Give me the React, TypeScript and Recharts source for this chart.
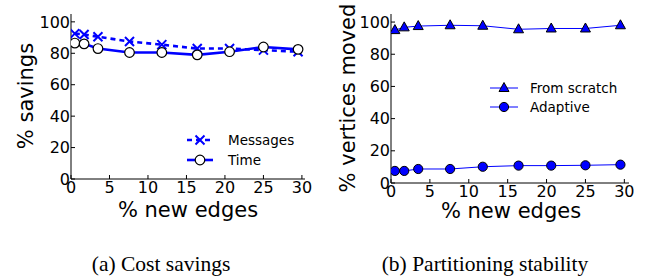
import React from 'react';
import { LineChart, Line, XAxis, YAxis } from 'recharts';

const edgesPct = [0.5, 1.7, 3.5, 7.6, 11.8, 16.4, 20.6, 25, 29.5];
const messagesSavings = [92.5, 92, 90.5, 87.5, 85.5, 83, 83, 82, 81];
const timeSavings = [86.5, 86, 83, 80.5, 80.5, 79, 81, 84, 82.5];
const fromScratch = [95, 96.7, 97.5, 98, 97.7, 95.5, 96, 96, 98];
const adaptive = [7.5, 7.5, 8.7, 8.7, 10.1, 10.8, 10.8, 11, 11.4];
const xTicks = [0, 5, 10, 15, 20, 25, 30];
const yTicks = [0, 20, 40, 60, 80, 100];

const costData = edgesPct.map((x, i) => ({ x, messages: messagesSavings[i], time: timeSavings[i] }));
const stabilityData = edgesPct.map((x, i) => ({ x, scratch: fromScratch[i], adaptive: adaptive[i] }));

const BLUE = '#0000ff';
const FONT = '"DejaVu Sans", sans-serif';
const tickStyle = { fill: '#000', fontSize: 16, fontFamily: FONT };

const XMark = (props: any) => {
  const { cx, cy } = props;
  if (cx == null || cy == null) return null;
  const s = 4.5;
  return (
    <path d={`M${cx - s},${cy - s}L${cx + s},${cy + s}M${cx - s},${cy + s}L${cx + s},${cy - s}`} stroke={BLUE} strokeWidth={2} fill="none" />
  );
};
const OpenCircle = (props: any) => {
  const { cx, cy } = props;
  if (cx == null || cy == null) return null;
  return <circle cx={cx} cy={cy} r={4.8} fill="#fff" stroke="#000" strokeWidth={1.2} />;
};
const Tri = (props: any) => {
  const { cx, cy } = props;
  if (cx == null || cy == null) return null;
  return <polygon points={`${cx},${cy - 5.5} ${cx - 5},${cy + 3.5} ${cx + 5},${cy + 3.5}`} fill={BLUE} stroke="#000" strokeWidth={1} />;
};
const FilledCircle = (props: any) => {
  const { cx, cy } = props;
  if (cx == null || cy == null) return null;
  return <circle cx={cx} cy={cy} r={4.6} fill={BLUE} stroke="#000" strokeWidth={1} />;
};

function axes(xMax: number, xHeight: number, bottomTickMargin: number) {
  return [
    <XAxis key="xb" xAxisId="b" dataKey="x" type="number" domain={[0, xMax]} ticks={xTicks} height={xHeight}
      tickSize={-4} tickMargin={bottomTickMargin} tick={tickStyle} stroke="#000" axisLine={{ stroke: '#000' }} tickLine={{ stroke: '#000' }} allowDataOverflow />,
    <XAxis key="xt" xAxisId="t" orientation="top" dataKey="x" type="number" domain={[0, xMax]} ticks={xTicks} height={0}
      tickSize={-4} tick={false} stroke="#000" allowDataOverflow />,
    <YAxis key="yl" yAxisId="l" type="number" domain={[0, 105]} ticks={yTicks} width={71}
      tickSize={-4} tickMargin={5} tick={tickStyle} stroke="#000" allowDataOverflow />,
    <YAxis key="yr" yAxisId="r" orientation="right" type="number" domain={[0, 105]} ticks={yTicks} width={0}
      tickSize={-4} tick={false} stroke="#000" allowDataOverflow />,
  ];
}

export default function App() {
  return (
    <div style={{ position: 'absolute', left: 0, top: 0, width: 647, height: 278, background: '#fff', overflow: 'hidden' }}>
      <div style={{ position: 'absolute', left: 0, top: 0 }}>
        <LineChart width={320} height={230} data={costData} margin={{ top: 14, right: 15, bottom: 0, left: 0 }}>
          {axes(30.4, 51, 7)}
          <Line xAxisId="b" yAxisId="l" type="linear" dataKey="messages" stroke={BLUE} strokeWidth={2.6}
            strokeDasharray="5 4" dot={<XMark />} activeDot={false} isAnimationActive={false} />
          <Line xAxisId="b" yAxisId="l" type="linear" dataKey="time" stroke={BLUE} strokeWidth={2.6}
            dot={<OpenCircle />} activeDot={false} isAnimationActive={false} />
        </LineChart>
      </div>
      <div style={{ position: 'absolute', left: 320, top: 0 }}>
        <LineChart width={327} height={230} data={stabilityData} margin={{ top: 14, right: 18, bottom: 0, left: 0 }}>
          {axes(30.6, 47, 7)}
          <Line xAxisId="b" yAxisId="l" type="linear" dataKey="scratch" stroke={BLUE} strokeWidth={1}
            dot={<Tri />} activeDot={false} isAnimationActive={false} />
          <Line xAxisId="b" yAxisId="l" type="linear" dataKey="adaptive" stroke={BLUE} strokeWidth={1}
            dot={<FilledCircle />} activeDot={false} isAnimationActive={false} />
        </LineChart>
      </div>
      <svg width={647} height={278} style={{ position: 'absolute', left: 0, top: 0, pointerEvents: 'none' }}>
        <g fontFamily={FONT} fill="#000">
          <text x={26} y={96} fontSize={21} textAnchor="middle" dominantBaseline="central" transform="rotate(-90 26 96)">% savings</text>
          <text x={188} y={216.5} fontSize={21} textAnchor="middle">% new edges</text>
          <text x={348} y={98} fontSize={21} textAnchor="middle" dominantBaseline="central" transform="rotate(-90 348 98)">% vertices moved</text>
          <text x={511} y={218} fontSize={21} textAnchor="middle">% new edges</text>

          <line x1={187} x2={213} y1={140} y2={140} stroke={BLUE} strokeWidth={2.6} strokeDasharray="5 4" />
          <XMark cx={200} cy={140} />
          <text x={228} y={140} fontSize={13.5} dominantBaseline="central">Messages</text>
          <line x1={187} x2={213} y1={160} y2={160} stroke={BLUE} strokeWidth={2.6} />
          <OpenCircle cx={200} cy={160} />
          <text x={228} y={160} fontSize={13.5} dominantBaseline="central">Time</text>

          <line x1={490} x2={518} y1={88} y2={88} stroke={BLUE} strokeWidth={1} />
          <Tri cx={504} cy={88} />
          <text x={530} y={88} fontSize={13.5} dominantBaseline="central">From scratch</text>
          <line x1={490} x2={518} y1={107} y2={107} stroke={BLUE} strokeWidth={1} />
          <FilledCircle cx={504} cy={107} />
          <text x={530} y={107} fontSize={13.5} dominantBaseline="central">Adaptive</text>
        </g>
        <g fontFamily='"Liberation Serif", "Times New Roman", serif' fill="#000" fontSize={21.5}>
          <text x={161} y={271} textAnchor="middle">(a) Cost savings</text>
          <text x={485} y={271} textAnchor="middle">(b) Partitioning stability</text>
        </g>
      </svg>
    </div>
  );
}
